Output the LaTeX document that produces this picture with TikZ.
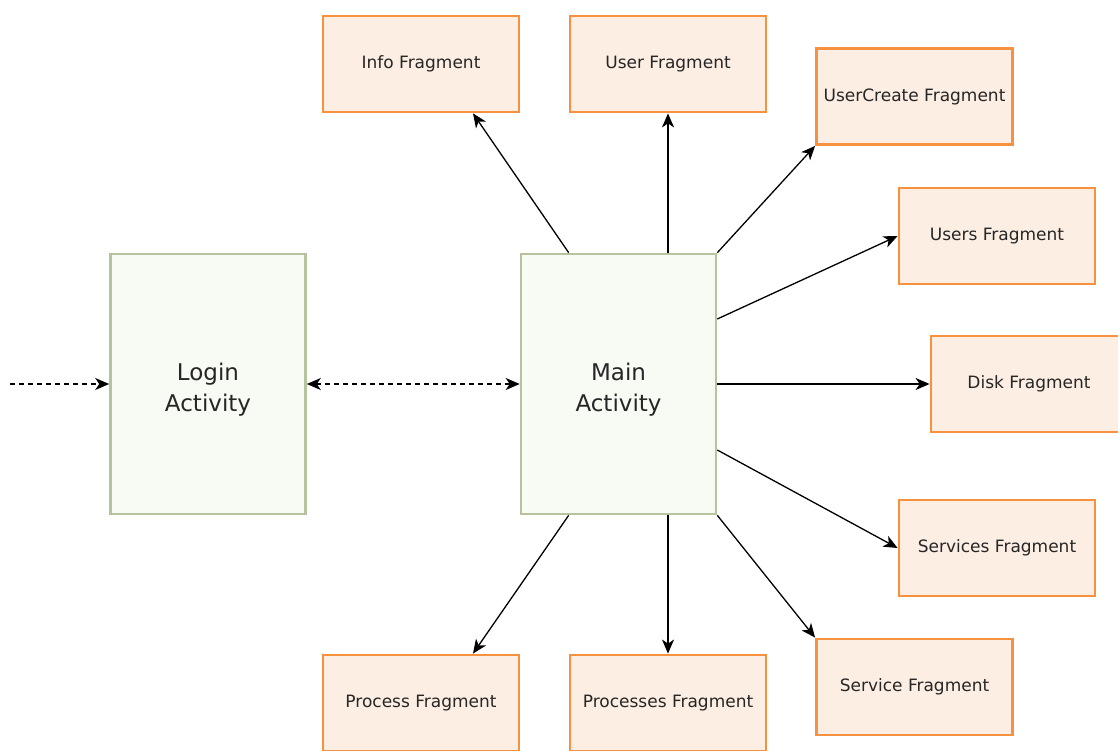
\documentclass[tikz,border=0pt]{standalone}
\usepackage{fontspec}
\setmainfont{DejaVu Sans}
\usetikzlibrary{arrows.meta}
\definecolor{fragfill}{HTML}{FCEEE3}
\definecolor{fragdraw}{HTML}{F5913F}
\definecolor{actfill}{HTML}{F8FBF3}
\definecolor{actdraw}{HTML}{B5C49C}
\begin{document}
\begin{tikzpicture}[x=1pt,y=-1pt,
  frag/.style={draw=fragdraw,fill=fragfill,line width=2.8pt,minimum width=196pt,minimum height=96pt,inner sep=0pt,text=black!85,font=\fontsize{17}{20}\selectfont},
  act/.style={draw=actdraw,fill=actfill,line width=2.6pt,minimum width=195pt,minimum height=260pt,inner sep=0pt,align=center,text=black!85,font=\fontsize{23}{31}\selectfont},
  conn/.style={line width=1.3pt,-{Stealth[length=14pt,width=12pt,inset=4pt]}},
  dconn/.style={conn,dash pattern=on 5pt off 4pt}]
\useasboundingbox (0,0) rectangle (1118,751);
\node[act] (login) at (208,384) {\rule{0pt}{28pt}Login\\Activity};
\node[act] (main) at (618.5,384) {\rule{0pt}{28pt}Main\\Activity};
\node[frag] (info) at (421,64) {Info Fragment};
\node[frag] (user) at (668,64) {User Fragment};
\node[frag] (ucreate) at (914.5,96.5) {UserCreate Fragment};
\node[frag] (users) at (997,236) {Users Fragment};
\node[frag] (disk) at (1029,384) {Disk Fragment};
\node[frag] (services) at (997,548) {Services Fragment};
\node[frag] (service) at (914.5,687) {Service Fragment};
\node[frag] (process) at (421,703) {Process Fragment};
\node[frag] (processes) at (668,703) {Processes Fragment};
\coordinate (start) at (10,384);
\draw[dconn] (start) -- (login.west);
\draw[dconn,{Stealth[length=14pt,width=12pt,inset=4pt]}-{Stealth[length=14pt,width=12pt,inset=4pt]}] (login.east) -- (main.west);
\draw[conn] ([xshift=49pt]main.north west) -- ([xshift=52pt]info.south);
\draw[conn] ([xshift=49.5pt]main.north) -- (user.south);
\draw[conn] (main.north east) -- (ucreate.south west);
\draw[conn] ([yshift=65pt]main.east) -- (users.west);
\draw[conn] (main.east) -- (disk.west);
\draw[conn] ([yshift=-66pt]main.east) -- (services.west);
\draw[conn] (main.south east) -- (service.north west);
\draw[conn] ([xshift=49.5pt]main.south) -- (processes.north);
\draw[conn] ([xshift=49pt]main.south west) -- ([xshift=52pt]process.north);
\end{tikzpicture}
\end{document}
